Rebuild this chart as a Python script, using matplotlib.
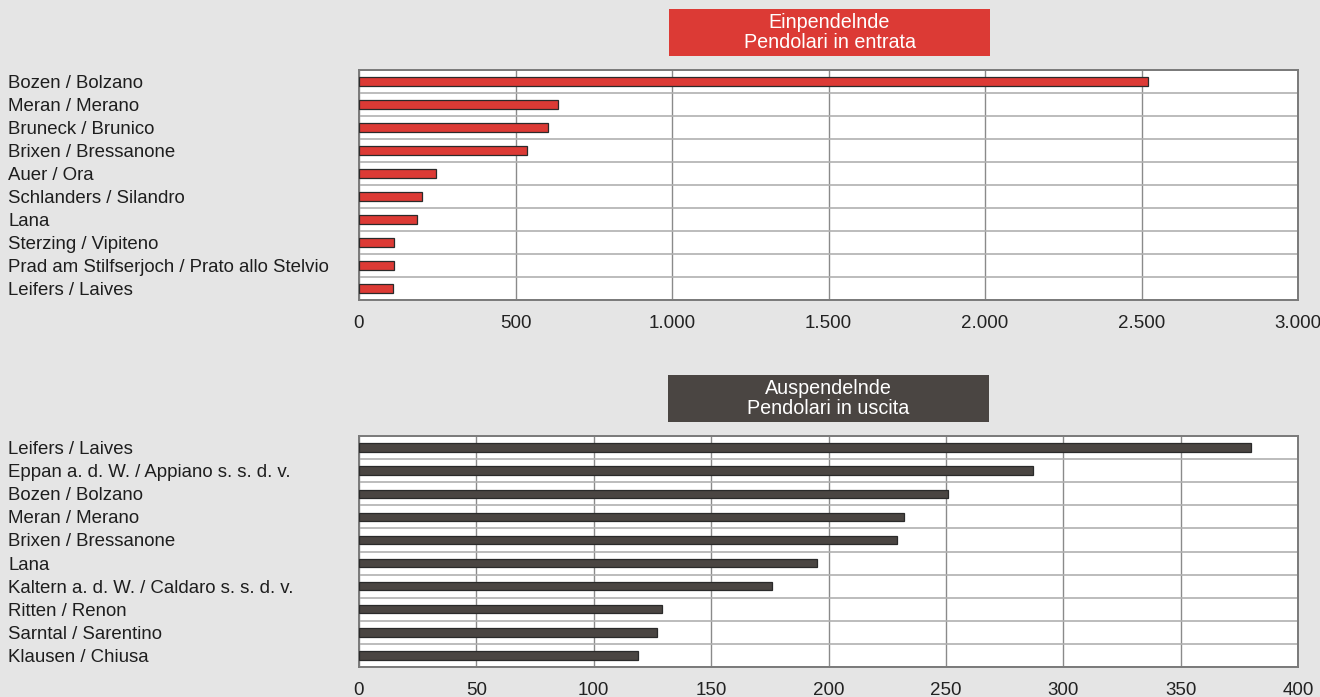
import matplotlib
matplotlib.use("Agg")
import matplotlib.pyplot as plt
from matplotlib.transforms import blended_transform_factory
from matplotlib.patches import Rectangle
from matplotlib.ticker import FuncFormatter, MultipleLocator

plt.rcParams['font.family'] = ['Liberation Sans', 'DejaVu Sans']

in_title = "Einpendelnde\nPendolari in entrata"
in_places = ["Bozen / Bolzano", "Meran / Merano", "Bruneck / Brunico", "Brixen / Bressanone",
             "Auer / Ora", "Schlanders / Silandro", "Lana", "Sterzing / Vipiteno",
             "Prad am Stilfserjoch / Prato allo Stelvio", "Leifers / Laives"]
in_values = [2520, 636, 605, 537, 247, 201, 185, 113, 112, 110]
in_ticks = [0, 500, 1000, 1500, 2000, 2500, 3000]

out_title = "Auspendelnde\nPendolari in uscita"
out_places = ["Leifers / Laives", "Eppan a. d. W. / Appiano s. s. d. v.", "Bozen / Bolzano",
              "Meran / Merano", "Brixen / Bressanone", "Lana",
              "Kaltern a. d. W. / Caldaro s. s. d. v.", "Ritten / Renon",
              "Sarntal / Sarentino", "Klausen / Chiusa"]
out_values = [380, 287, 251, 232, 229, 195, 176, 129, 127, 119]
out_ticks = [0, 50, 100, 150, 200, 250, 300, 350, 400]

W, H = 1320, 697
fig = plt.figure(figsize=(13.2, 6.97), dpi=100)
fig.patch.set_facecolor('#e5e5e5')


def fmt(v, pos=None):
    return f"{int(v):,}".replace(",", ".")


def panel(rect, places, values, ticks, color, title, box):
    ax = fig.add_axes(rect)
    ax.set_facecolor('white')
    n = len(places)
    ys = list(range(n))
    ax.barh(ys, values, height=0.36, color=color, edgecolor='#2a2a2a', linewidth=0.9, zorder=3)
    ax.set_ylim(n - 0.5, -0.5)
    ax.set_xlim(ticks[0], ticks[-1])
    ax.set_xticks(ticks)
    ax.xaxis.set_major_formatter(FuncFormatter(fmt))
    ax.set_yticks([])
    ax.yaxis.set_minor_locator(MultipleLocator(1, offset=0.5))
    ax.tick_params(axis='y', which='both', length=0, labelleft=False)
    ax.tick_params(axis='x', length=0, pad=10.5, labelsize=13.5, labelcolor='#222222')
    ax.grid(axis='x', which='major', color='#8a8a8a', linewidth=1.0, zorder=1)
    ax.grid(axis='y', which='minor', color='#b0b0b0', linewidth=1.2, zorder=1)
    for s in ax.spines.values():
        s.set_color('#7a7a7a')
        s.set_linewidth(1.4)
    tr = blended_transform_factory(fig.transFigure, ax.transData)
    for y, p in zip(ys, places):
        ax.text(8 / W, y, p, transform=tr, ha='left', va='center_baseline', fontsize=13.4,
                color='#1e1e1e', clip_on=False)
    bx0, by0, bx1, by1 = box
    fig.patches.append(Rectangle((bx0 / W, 1 - by1 / H), (bx1 - bx0) / W, (by1 - by0) / H,
                                 transform=fig.transFigure, facecolor=color, edgecolor='none'))
    fig.text((bx0 + bx1) / 2 / W, 1 - (by0 + by1) / 2 / H, title, ha='center', va='center',
             color='white', fontsize=14.2, linespacing=1.08)
    return ax


panel([359 / W, 1 - 300 / H, 939 / W, 230 / H], in_places, in_values, in_ticks,
      '#dc3a35', in_title, (669, 9, 990, 56))
panel([359 / W, 1 - 667 / H, 939 / W, 231 / H], out_places, out_values, out_ticks,
      '#4a4542', out_title, (668, 375, 989, 422))

fig.savefig("out.png", dpi=100, facecolor=fig.get_facecolor())
